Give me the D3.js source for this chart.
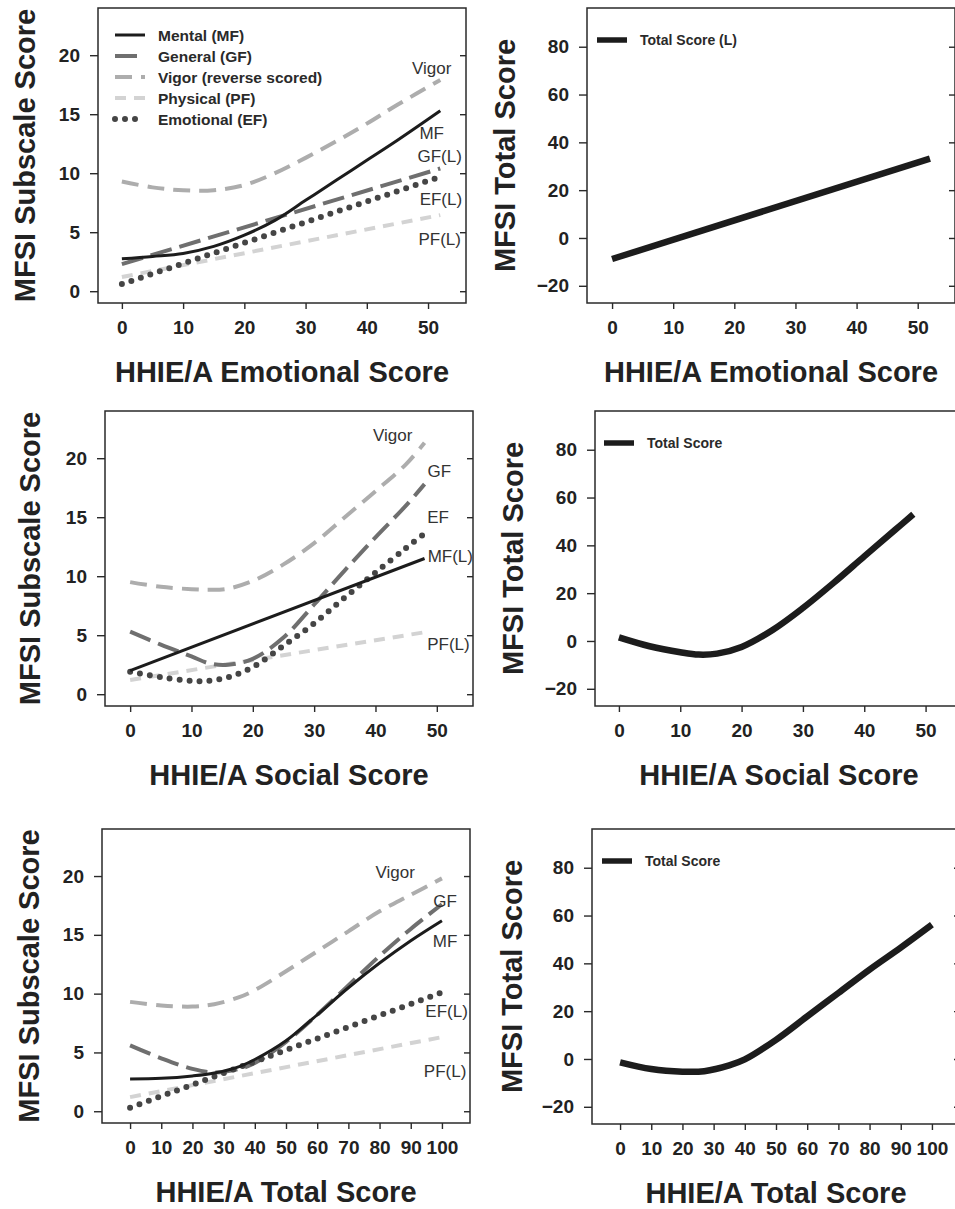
<!DOCTYPE html>
<html>
<head>
<meta charset="utf-8">
<script src="https://cdn.jsdelivr.net/npm/d3@7/dist/d3.min.js"></script>
<style>
  html, body { margin: 0; padding: 0; background: #fff; }
  svg { display: block; font-family: "Liberation Sans", Arial, sans-serif; }
</style>
</head>
<body>
<svg id="chart" width="955" height="1209"></svg>
<script>
// ---- Emotional subscale (x: HHIE/A Emotional Score) ----
const emoX      = [0, 5, 10, 15, 20, 25, 30, 35, 40, 45, 52];
const emoVigor  = [9.3, 8.8, 8.55, 8.55, 9.0, 10.0, 11.3, 12.7, 14.2, 15.8, 17.9];
const emoMF     = [2.75, 2.95, 3.2, 3.8, 4.75, 6.0, 7.7, 9.4, 11.1, 12.8, 15.3];
const emoLinX   = [0, 52];
const emoGF     = [2.3, 10.4];
const emoEF     = [0.6, 9.7];
const emoPF     = [1.2, 6.45];
const emoTotal  = [-8.8, 33.2];

// ---- Social subscale (x: HHIE/A Social Score) ----
const socX      = [0, 5, 10, 13, 16, 20, 25, 30, 35, 40, 45, 48];
const socVigor  = [9.5, 9.1, 8.9, 8.85, 8.95, 9.6, 11.0, 12.8, 15.0, 17.2, 19.5, 21.3];
const socGF     = [5.3, 4.2, 3.2, 2.6, 2.5, 3.0, 4.8, 7.6, 10.5, 13.3, 16.0, 17.8];
const socEF     = [1.9, 1.45, 1.12, 1.15, 1.45, 2.3, 4.1, 6.0, 8.2, 10.3, 12.4, 13.6];
const socTotal  = [1.5, -2.2, -4.7, -5.7, -5.3, -2.5, 4.5, 13.8, 24.3, 35.4, 46.4, 53.0];
const socLinX   = [0, 48];
const socMF     = [2.0, 11.5];
const socPF     = [1.2, 5.25];

// ---- Total score (x: HHIE/A Total Score) ----
const totX      = [0, 10, 20, 27, 35, 40, 50, 60, 70, 80, 90, 100];
const totVigor  = [9.3, 9.0, 8.9, 9.1, 9.7, 10.3, 11.9, 13.6, 15.3, 17.0, 18.4, 19.8];
const totGF     = [5.6, 4.5, 3.6, 3.3, 3.6, 4.1, 5.9, 8.2, 10.7, 13.2, 15.5, 17.6];
const totMF     = [2.75, 2.8, 3.0, 3.25, 3.8, 4.4, 6.0, 8.2, 10.5, 12.6, 14.5, 16.2];
const totTotal  = [-1.4, -4.2, -5.3, -5.1, -2.7, -0.2, 8.0, 17.8, 27.6, 37.4, 46.6, 56.2];
const totLinX   = [0, 100];
const totEF     = [0.3, 10.1];
const totPF     = [1.2, 6.3];

// Tick labels
const subTicks   = [0, 5, 10, 15, 20];
const totalTicks = [-20, 0, 20, 40, 60, 80];
const xTicks50   = [0, 10, 20, 30, 40, 50];
const xTicks100  = [0, 10, 20, 30, 40, 50, 60, 70, 80, 90, 100];

// Legend entries for the subscale panel
const subLegend = ["Mental (MF)", "General (GF)", "Vigor (reverse scored)", "Physical (PF)", "Emotional (EF)"];

// Line styles
const styles = {
  MF:    { stroke: "#1c1c1c", width: 3,   dash: null },
  GF:    { stroke: "#6f6f6f", width: 4,   dash: "22 8" },
  Vigor: { stroke: "#adadad", width: 4,   dash: "17 9" },
  PF:    { stroke: "#d3d3d3", width: 4,   dash: "11 8" },
  EF:    { stroke: "#454545", width: 6,   dash: "0 10", cap: "round" },
  Total: { stroke: "#1c1c1c", width: 6.5, dash: null }
};

const zip = (xs, ys) => xs.map((x, i) => [x, ys[i]]);

const svg = d3.select("#chart");
const FONT_TICK = 19, FONT_TITLE = 29;

function panel(cfg) {
  const g = svg.append("g").attr("transform", `translate(${cfg.left},${cfg.top})`);
  const W = 368, H = cfg.h || 295;
  const x = d3.scaleLinear().domain(cfg.xDomain).range([0, W]);
  const y = d3.scaleLinear().domain(cfg.yDomain).range([H, 0]);

  // clip plotting area
  const clipId = "clip" + cfg.id;
  g.append("clipPath").attr("id", clipId).append("rect").attr("width", W).attr("height", H);

  // axes
  const ax = g.append("g").attr("transform", `translate(0,${H})`)
    .call(d3.axisBottom(x).tickValues(cfg.xTicks).tickSize(6).tickPadding(12));
  const ay = g.append("g")
    .call(d3.axisLeft(y).tickValues(cfg.yTicks).tickSize(8).tickPadding(10));
  const ar = g.append("g").attr("transform", `translate(${W},0)`)
    .call(d3.axisRight(y).tickValues(cfg.yTicks).tickSize(-6).tickFormat(""));
  [ax, ay, ar].forEach(a => {
    a.select(".domain").remove();
    a.selectAll(".tick line").attr("stroke", "#2a2a2a").attr("stroke-width", 1.4);
    a.selectAll(".tick text").attr("font-size", FONT_TICK).attr("font-weight", "bold").attr("fill", "#222");
  });

  // frame
  g.append("rect").attr("width", W).attr("height", H)
    .attr("fill", "none").attr("stroke", "#2a2a2a").attr("stroke-width", 1.5);

  const line = d3.line().x(d => x(d[0])).y(d => y(d[1])).curve(d3.curveCatmullRom.alpha(0.5));
  const plot = g.append("g").attr("clip-path", `url(#${clipId})`);
  cfg.series.forEach(s => {
    const st = styles[s.style];
    plot.append("path").datum(zip(s.x, s.y))
      .attr("d", line).attr("fill", "none")
      .attr("stroke", st.stroke).attr("stroke-width", st.width)
      .attr("stroke-dasharray", st.dash).attr("stroke-linecap", st.cap || "butt");
  });

  // curve labels
  (cfg.labels || []).forEach(l => {
    g.append("text").attr("x", x(l.x)).attr("y", y(l.y))
      .attr("text-anchor", "middle").attr("dominant-baseline", "central")
      .attr("font-size", 17).attr("fill", "#333").text(l.text);
  });

  // legend
  if (cfg.legend) {
    cfg.legend.forEach((item, i) => {
      const st = styles[item.style];
      const ly = cfg.legendY + i * 21;
      g.append("line").attr("x1", cfg.legendX).attr("x2", cfg.legendX + 30)
        .attr("y1", ly).attr("y2", ly)
        .attr("stroke", st.stroke).attr("stroke-width", item.width || st.width)
        .attr("stroke-dasharray", st.dash).attr("stroke-linecap", st.cap || "butt");
      g.append("text").attr("x", cfg.legendX + 43).attr("y", ly)
        .attr("dominant-baseline", "central").attr("font-size", cfg.legendFont)
        .attr("font-weight", "bold").attr("fill", "#2a2a2a").text(item.text);
    });
  }

  // axis titles
  g.append("text").attr("x", W / 2).attr("y", H + cfg.xTitleDy)
    .attr("text-anchor", "middle").attr("font-size", FONT_TITLE).attr("font-weight", "bold")
    .attr("fill", "#222").text(cfg.xTitle);
  g.append("text").attr("transform", `translate(${cfg.yTitleDx},${H / 2}) rotate(-90)`)
    .attr("text-anchor", "middle").attr("font-size", FONT_TITLE).attr("font-weight", "bold")
    .attr("fill", "#222").text(cfg.yTitle);
}

const subDomain = [-1, 24];
const totDomain = [-27.2, 96.2];

// Row 1: Emotional
panel({
  id: 1, left: 98, top: 8, xDomain: [-3.9, 56.2], yDomain: subDomain,
  xTicks: xTicks50, yTicks: subTicks,
  xTitle: "HHIE/A Emotional Score", yTitle: "MFSI Subscale Score", xTitleDy: 79, yTitleDx: -63,
  series: [
    { x: emoX, y: emoVigor, style: "Vigor" },
    { x: emoLinX, y: emoPF, style: "PF" },
    { x: emoLinX, y: emoGF, style: "GF" },
    { x: emoLinX, y: emoEF, style: "EF" },
    { x: emoX, y: emoMF, style: "MF" }
  ],
  labels: [
    { text: "Vigor", x: 50.6, y: 18.9 },
    { text: "MF", x: 50.6, y: 13.4 },
    { text: "GF(L)", x: 51.9, y: 11.45 },
    { text: "EF(L)", x: 52.1, y: 7.8 },
    { text: "PF(L)", x: 51.9, y: 4.4 }
  ],
  legend: [
    { text: subLegend[0], style: "MF" },
    { text: subLegend[1], style: "GF" },
    { text: subLegend[2], style: "Vigor" },
    { text: subLegend[3], style: "PF" },
    { text: subLegend[4], style: "EF" }
  ],
  legendX: 17, legendY: 27, legendFont: 15.5
});

panel({
  id: 2, left: 587, top: 8, xDomain: [-4.1, 56.1], yDomain: totDomain,
  xTicks: xTicks50, yTicks: totalTicks,
  xTitle: "HHIE/A Emotional Score", yTitle: "MFSI Total Score", xTitleDy: 79, yTitleDx: -72,
  series: [{ x: emoLinX, y: emoTotal, style: "Total" }],
  legend: [{ text: "Total Score (L)", style: "Total", width: 5.5 }],
  legendX: 10, legendY: 32, legendFont: 14
});

// Row 2: Social
panel({
  id: 3, left: 105, top: 411, xDomain: [-4.1, 55.9], yDomain: subDomain,
  xTicks: xTicks50, yTicks: subTicks,
  xTitle: "HHIE/A Social Score", yTitle: "MFSI Subscale Score", xTitleDy: 79, yTitleDx: -65,
  series: [
    { x: socX, y: socVigor, style: "Vigor" },
    { x: socLinX, y: socPF, style: "PF" },
    { x: socX, y: socGF, style: "GF" },
    { x: socX, y: socEF, style: "EF" },
    { x: socLinX, y: socMF, style: "MF" }
  ],
  labels: [
    { text: "Vigor", x: 42.8, y: 21.9 },
    { text: "GF", x: 50.4, y: 18.9 },
    { text: "EF", x: 50.2, y: 15.0 },
    { text: "MF(L)", x: 52.2, y: 11.7 },
    { text: "PF(L)", x: 51.9, y: 4.2 }
  ]
});

panel({
  id: 4, left: 595, top: 411, xDomain: [-3.9, 56.1], yDomain: totDomain,
  xTicks: xTicks50, yTicks: totalTicks,
  xTitle: "HHIE/A Social Score", yTitle: "MFSI Total Score", xTitleDy: 79, yTitleDx: -72,
  series: [{ x: socX, y: socTotal, style: "Total" }],
  legend: [{ text: "Total Score", style: "Total", width: 5.5 }],
  legendX: 9, legendY: 32, legendFont: 14
});

// Row 3: Total
panel({
  id: 5, left: 102, top: 829, h: 294, xDomain: [-9, 109], yDomain: subDomain,
  xTicks: xTicks100, yTicks: subTicks,
  xTitle: "HHIE/A Total Score", yTitle: "MFSI Subscale Score", xTitleDy: 79, yTitleDx: -63,
  series: [
    { x: totX, y: totVigor, style: "Vigor" },
    { x: totLinX, y: totPF, style: "PF" },
    { x: totX, y: totGF, style: "GF" },
    { x: totLinX, y: totEF, style: "EF" },
    { x: totX, y: totMF, style: "MF" }
  ],
  labels: [
    { text: "Vigor", x: 85, y: 20.3 },
    { text: "GF", x: 101, y: 17.8 },
    { text: "MF", x: 101, y: 14.4 },
    { text: "EF(L)", x: 101.5, y: 8.5 },
    { text: "PF(L)", x: 101, y: 3.4 }
  ]
});

panel({
  id: 6, left: 592, top: 829, xDomain: [-9, 109], yDomain: totDomain,
  xTicks: xTicks100, yTicks: totalTicks,
  xTitle: "HHIE/A Total Score", yTitle: "MFSI Total Score", xTitleDy: 79, yTitleDx: -70,
  series: [{ x: totX, y: totTotal, style: "Total" }],
  legend: [{ text: "Total Score", style: "Total", width: 5.5 }],
  legendX: 10, legendY: 32, legendFont: 14
});
</script>
</body>
</html>
